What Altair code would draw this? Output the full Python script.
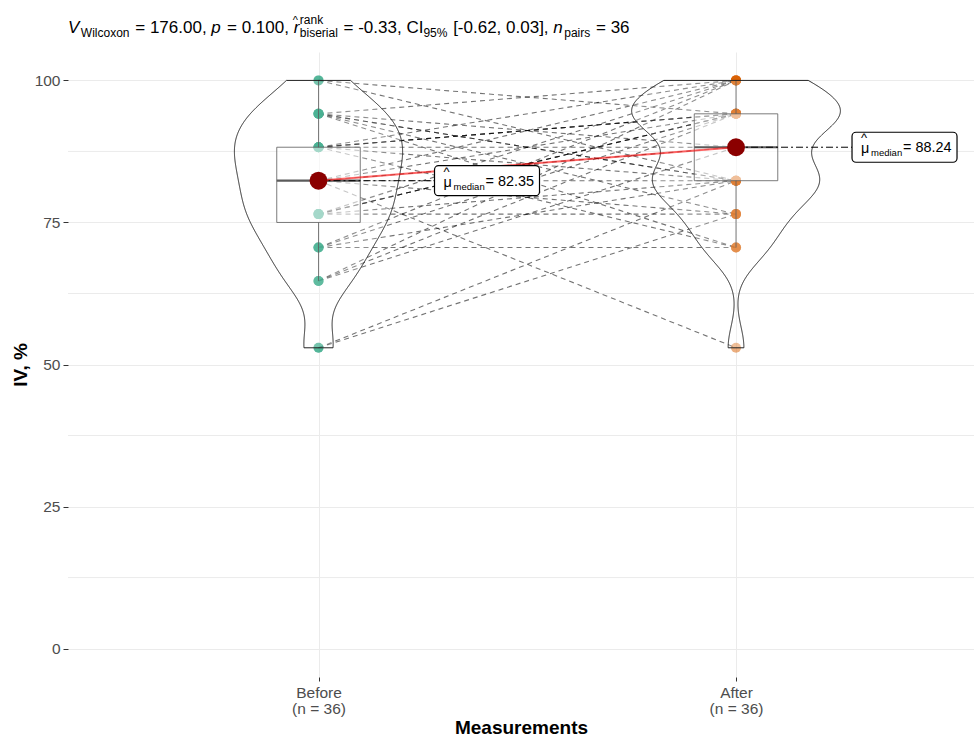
import altair as alt
import numpy as np
import pandas as pd

# ---- data: IV (%) for the same 36 subjects, measured before and after ----
conditions = ["Before", "After"]
positions = [1, 2]
colors = ["#1B9E77", "#D95F02"]

before = [52.94, 52.94,
          64.71, 64.71, 64.71,
          70.59, 70.59, 70.59, 70.59,
          76.47, 76.47, 76.47, 76.47, 76.47, 76.47,
          82.35, 82.35, 82.35, 82.35, 82.35, 82.35,
          88.24, 88.24, 88.24, 88.24, 88.24, 88.24, 88.24,
          94.12, 94.12, 94.12, 94.12, 94.12, 94.12,
          100.0, 100.0]
after = [82.35, 76.47,
         100.0, 94.12, 88.24,
         100.0, 94.12, 82.35, 70.59,
         100.0, 94.12, 94.12, 94.12, 82.35, 76.47,
         52.94, 100.0, 94.12, 88.24, 82.35, 76.47,
         100.0, 94.12, 94.12, 94.12, 88.24, 82.35, 70.59,
         100.0, 88.24, 82.35, 82.35, 76.47, 70.59,
         94.12, 82.35]

# statistical subtitle pieces: (text, style)
subtitle_parts = [
    ("V", "it"), ("Wilcoxon", "sub"), (" = 176.00, ", "main"),
    ("p", "it"), (" = 0.100, ", "main"),
    ("r", "ithat"), (("rank", "biserial"), "stack"), (" = -0.33, CI", "main"),
    ("95%", "sub"), (" [-0.62, 0.03], ", "main"),
    ("n", "it"), ("pairs", "sub"), (" = 36", "main"),
]

y_ticks = [0, 25, 50, 75, 100]
y_minor = [12.5, 37.5, 62.5, 87.5]

FONT = "Liberation Sans"
W, H = 906, 625
X_DOM = [0.4, 2.57]
Y_DOM = [-5, 105]
xs = alt.Scale(domain=X_DOM, nice=False, zero=False)
ys = alt.Scale(domain=Y_DOM, nice=False, zero=False)

X_AXIS = alt.Axis(values=positions, title="Measurements", grid=True, gridColor="#EBEBEB",
                  gridWidth=1, domain=False, tickSize=4, tickColor="#333333",
                  labelExpr="datum.value == 1 ? ['Before', '(n = 36)'] : ['After', '(n = 36)']",
                  labelColor="#4D4D4D", labelFontSize=15.5, labelFont=FONT,
                  labelLineHeight=16.5, labelPadding=4,
                  titleFont=FONT, titleFontSize=19, titleFontWeight="bold",
                  titleColor="black", titlePadding=1)
Y_AXIS = alt.Axis(values=y_ticks, title="IV, %", grid=True, gridColor="#EBEBEB",
                  gridWidth=1, domain=False, ticks=True, tickSize=5, tickColor="#333333",
                  labelColor="#4D4D4D", labelFontSize=15.5, labelFont=FONT, labelPadding=3,
                  titleFont=FONT, titleFontSize=19, titleFontWeight="bold",
                  titleColor="black", titlePadding=4)


def X(field):
    return alt.X(field, scale=xs, axis=X_AXIS)


def Y(field):
    return alt.Y(field, scale=ys, axis=Y_AXIS)


# ---- long table of observations ----
n = len(before)
obs = pd.DataFrame({
    "id": list(range(n)) * 2,
    "cond": ["Before"] * n + ["After"] * n,
    "pos": [1] * n + [2] * n,
    "value": before + after,
})

# ---- box statistics (Tukey) ----
rows = []
for cond, pos, vals in zip(conditions, positions, [before, after]):
    v = np.array(vals)
    q1, med, q3 = np.percentile(v, [25, 50, 75])
    iqr = q3 - q1
    lo = v[v >= q1 - 1.5 * iqr].min()
    hi = v[v <= q3 + 1.5 * iqr].max()
    rows.append(dict(cond=cond, pos=pos, q1=q1, med=med, q3=q3, lo=lo, hi=hi,
                     left=pos - 0.1, right=pos + 0.1,
                     lab="= " + f"{med:.2f}"))
box = pd.DataFrame(rows)

# ---- violins: gaussian KDE (nrd0 bandwidth), trimmed to data range, area-scaled ----
dens_all = []
for cond, pos, vals in zip(conditions, positions, [before, after]):
    v = np.array(vals, dtype=float)
    q1, q3 = np.percentile(v, [25, 75])
    bw = 0.9 * min(v.std(ddof=1), (q3 - q1) / 1.34) * len(v) ** -0.2
    grid = np.linspace(v.min(), v.max(), 512)
    d = np.exp(-0.5 * ((grid[:, None] - v[None, :]) / bw) ** 2).sum(1) / (len(v) * bw * np.sqrt(2 * np.pi))
    dens_all.append((cond, pos, grid, d))
dmax = max(d.max() for _, _, _, d in dens_all)
vrows = []
for cond, pos, grid, d in dens_all:
    hw = d / dmax * 0.25
    for g, h in zip(grid, hw):
        vrows.append(dict(cond=cond, y=g, xl=pos - h, xr=pos + h))
violin = pd.DataFrame(vrows)

# ---- layers ----
grid_minor = alt.Chart(pd.DataFrame({"g": y_minor})).mark_rule(
    color="#EBEBEB", strokeWidth=1
).encode(y=Y("g:Q"), x=alt.value(0), x2=alt.value(W))

lines = alt.Chart(obs).mark_line(
    color="black", opacity=0.55, strokeWidth=1.1, strokeDash=[5, 4]
).encode(x=X("pos:Q"), y=Y("value:Q"), detail="id:N")

points = alt.Chart(obs).mark_circle(size=100, opacity=0.5).encode(
    x=X("pos:Q"), y=Y("value:Q"),
    color=alt.Color("cond:N", scale=alt.Scale(domain=conditions, range=colors), legend=None),
)

box_rect = alt.Chart(box).mark_rect(
    fill="white", fillOpacity=0.5, stroke="#333333", strokeWidth=1, strokeOpacity=0.8
).encode(x=X("left:Q"), x2="right:Q", y=Y("q1:Q"), y2="q3:Q")
whisk_lo = alt.Chart(box).mark_rule(color="#333333", strokeWidth=1, opacity=0.8).encode(
    x=X("pos:Q"), y=Y("lo:Q"), y2="q1:Q")
whisk_hi = alt.Chart(box).mark_rule(color="#333333", strokeWidth=1, opacity=0.8).encode(
    x=X("pos:Q"), y=Y("q3:Q"), y2="hi:Q")
med_line = alt.Chart(box).mark_rule(color="#333333", strokeWidth=2.2).encode(
    x=X("left:Q"), x2="right:Q", y=Y("med:Q"))

violins = alt.Chart(violin).mark_area(
    orient="horizontal", fill="white", fillOpacity=0.2, stroke="#222222", strokeWidth=1
).encode(y=Y("y:Q"), x=X("xl:Q"), x2="xr:Q", detail="cond:N")

med_path = alt.Chart(box).mark_line(color="red", opacity=0.6, strokeWidth=2).encode(
    x=X("pos:Q"), y=Y("med:Q"))

LAB_OFF = 116
LAB_W = 105
connector = alt.Chart(box).mark_rule(
    color="black", strokeWidth=1, strokeDash=[7, 3, 2, 3], x2Offset=LAB_OFF
).encode(x=X("pos:Q"), x2="pos:Q", y=Y("med:Q"))

med_points = alt.Chart(box).mark_circle(size=320, color="#8B0000", opacity=1).encode(
    x=X("pos:Q"), y=Y("med:Q"))

lab_box = alt.Chart(box).mark_rect(
    fill="white", stroke="black", strokeWidth=1.2, cornerRadius=4,
    xOffset=LAB_OFF, x2Offset=LAB_OFF + LAB_W, yOffset=-15, y2Offset=15
).encode(x=X("pos:Q"), x2="pos:Q", y=Y("med:Q"), y2="med:Q")


def lab_text(txt, dx, dy, size, field=None):
    enc = dict(x=X("pos:Q"), y=Y("med:Q"))
    mk = alt.Chart(box).mark_text(align="left", baseline="alphabetic", dx=LAB_OFF + dx, dy=dy,
                                  fontSize=size, font=FONT, color="black")
    if field:
        return mk.encode(text=f"{field}:N", **enc)
    return mk.encode(text=alt.value(txt), **enc)


lab_mu = lab_text("μ", 9, 6, 14.4)
lab_hat = lab_text("^", 9, -5, 13)
lab_sub = lab_text("median", 19, 9, 9.5)
lab_val = lab_text(None, 51, 5, 14.4, field="lab")

# ---- subtitle laid out with Arial/Liberation advance widths ----
ADV = {" ": 278, ".": 278, ",": 278, "=": 584, "-": 333, "[": 278, "]": 278, "%": 889,
       "(": 333, ")": 333, "V": 667, "W": 944, "C": 722, "I": 278, "a": 556, "b": 556,
       "c": 500, "d": 556, "e": 556, "i": 222, "k": 500, "l": 222, "m": 833, "n": 556,
       "o": 556, "p": 556, "r": 333, "s": 500, "x": 500}


def text_w(t, size):
    return sum(ADV.get(ch, 556) for ch in t) * size / 1000.0


S, s = 17, 12
BASE = -19
one = pd.DataFrame({"k": [0]})


def seg(txt, x, y, size, italic=False):
    # leading blanks collapse in SVG text, so shift the anchor instead
    stripped = txt.lstrip(" ")
    x = x + text_w(txt[: len(txt) - len(stripped)], size)
    return alt.Chart(one).mark_text(
        x=x, y=y, align="left", baseline="alphabetic", fontSize=size, font=FONT,
        fontStyle="italic" if italic else "normal", color="black", text=stripped.rstrip(" "))


title_layers = []
cx = 0.0
for txt, kind in subtitle_parts:
    if kind == "main":
        title_layers.append(seg(txt, cx, BASE, S))
        cx += text_w(txt, S)
    elif kind == "it":
        title_layers.append(seg(txt, cx, BASE, S, True))
        cx += text_w(txt, S) + 1.5
    elif kind == "ithat":
        title_layers.append(seg(txt, cx, BASE, S, True))
        title_layers.append(seg("^", cx - 1, BASE - 9, 11))
        cx += text_w(txt, S) + 0.5
    elif kind == "sub":
        title_layers.append(seg(txt, cx, BASE + 4, s))
        cx += text_w(txt, s) + 1
    elif kind == "stack":
        up, down = txt
        title_layers.append(seg(up, cx, BASE - 9, s))
        title_layers.append(seg(down, cx, BASE + 4, s))
        cx += max(text_w(up, s), text_w(down, s)) + 1

chart = alt.layer(
    grid_minor, lines, points, box_rect, whisk_lo, whisk_hi, med_line, violins,
    med_path, connector, lab_box, lab_mu, lab_hat, lab_sub, lab_val, med_points,
    *title_layers
).properties(
    width=W, height=H,
    autosize=alt.AutoSizeParams(type="none"),
    padding={"left": 68, "top": 52, "right": 0, "bottom": 60},
    background="white",
).configure_view(stroke=None)

chart.save("out.html", embed_options={"renderer": "svg", "actions": False})
